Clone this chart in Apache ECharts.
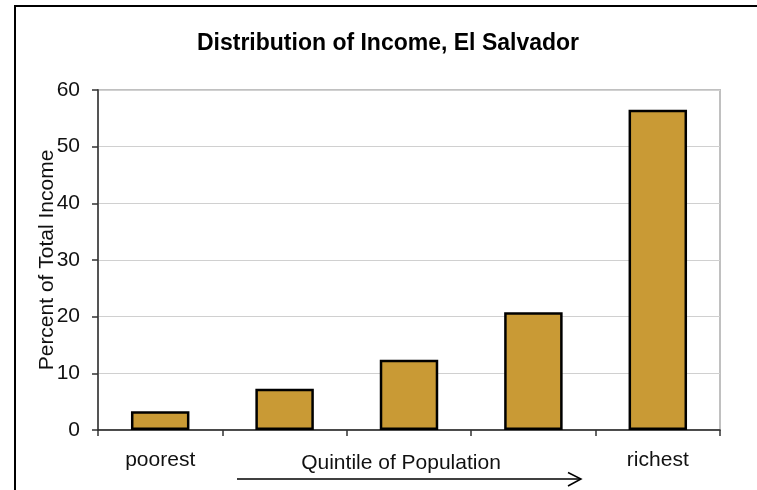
<!DOCTYPE html>
<html><head><meta charset="utf-8">
<script src="https://cdn.jsdelivr.net/npm/echarts@6/dist/echarts.min.js"></script>
<style>html,body{margin:0;padding:0;background:#fff}#c{width:757px;height:490px}</style>
</head><body><div id="c"></div>
<script>
const categories = ['poorest', '', '', '', 'richest'];
const incomeShare = [3.3, 7.3, 12.4, 20.8, 56.5];
const chartTitle = 'Distribution of Income, El Salvador';
const yAxisTitle = 'Percent of Total Income';
const xAxisTitle = 'Quintile of Population';

const chart = echarts.init(document.getElementById('c'));
const font = 'Liberation Sans, Arial, sans-serif';
chart.setOption({
  animation: false,
  title: {
    text: chartTitle, left: 383, top: 27, textAlign: 'center',
    textStyle: { fontFamily: font, fontSize: 23, fontWeight: 'bold', color: '#000' }
  },
  grid: { left: 98, right: 37, top: 90, bottom: 60, show: true, borderColor: '#c0c0c0', borderWidth: 2, backgroundColor: 'transparent' },
  xAxis: {
    type: 'category', data: categories, boundaryGap: true,
    axisLine: { lineStyle: { color: '#222', width: 1.5 } },
    axisTick: { show: true, length: 6, lineStyle: { color: '#333', width: 1.5 } },
    axisLabel: { fontFamily: font, fontSize: 21, color: '#111', margin: 20, interval: 0 }
  },
  yAxis: {
    type: 'value', min: 0, max: 60, interval: 10,
    name: yAxisTitle, nameLocation: 'middle', nameGap: 40, nameMoveOverlap: false,
    nameTextStyle: { fontFamily: font, fontSize: 21, color: '#111' },
    axisLine: { show: true, lineStyle: { color: '#555', width: 2 } },
    axisTick: { show: true, length: 6, lineStyle: { color: '#333', width: 1.5 } },
    axisLabel: { fontFamily: font, fontSize: 21, color: '#111', margin: 18 },
    splitLine: { lineStyle: { color: '#d0d0d0', width: 1 } }
  },
  series: [{
    type: 'bar', data: incomeShare, barWidth: '47%',
    itemStyle: { color: '#C99A35', borderColor: '#000', borderWidth: 2.5 }
  }],
  graphic: [
    { type: 'rect', shape: { x: 15, y: 6, width: 760, height: 500 }, style: { fill: 'none', stroke: '#000', lineWidth: 2 }, z: 100 },
    { type: 'text', x: 401, y: 463, style: { text: xAxisTitle, font: '21px ' + font, fill: '#111', textAlign: 'center', textVerticalAlign: 'middle' } },
    { type: 'polyline', shape: { points: [[237, 479], [580, 479]] }, style: { stroke: '#000', lineWidth: 1.5, fill: 'none' } },
    { type: 'polyline', shape: { points: [[568, 472.5], [581, 479], [568, 486]] }, style: { stroke: '#000', lineWidth: 1.5, fill: 'none' } }
  ]
});
</script>
</body></html>
